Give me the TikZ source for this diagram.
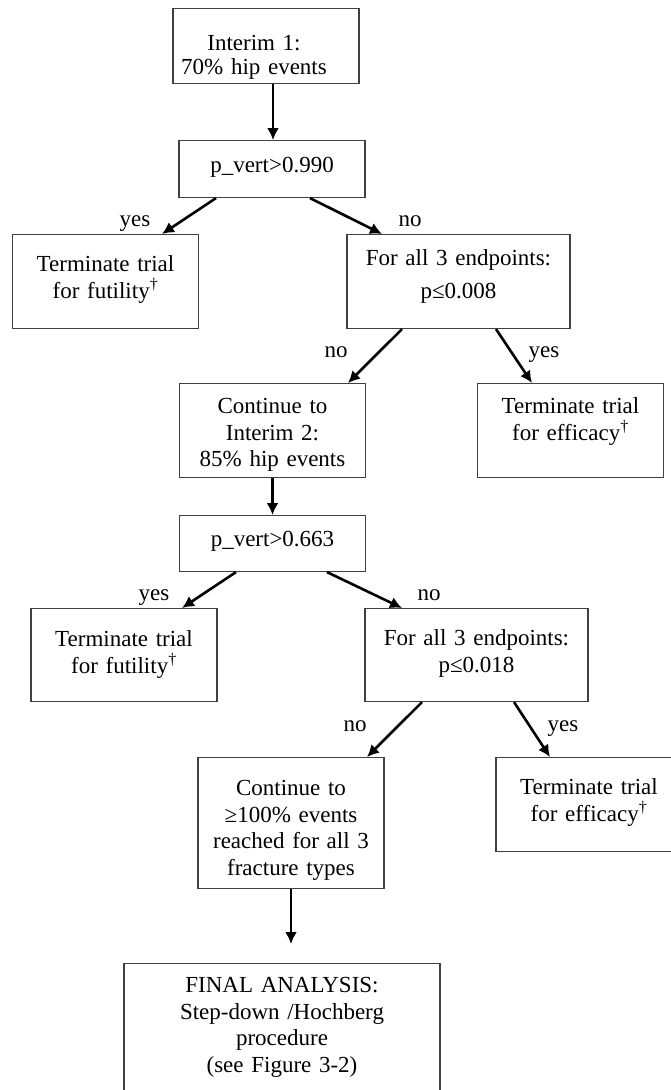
\documentclass[tikz,border=0pt]{standalone}
\usepackage{fontspec}
\setmainfont{Liberation Serif}
\usetikzlibrary{arrows.meta}

\begin{document}
\begin{tikzpicture}[x=1pt, y=-1pt,
    font=\fontsize{23}{26.5}\selectfont,
    box/.style={draw=black!75, line width=1.1pt, anchor=north, inner sep=0pt, text width=186pt, align=center},
    wide/.style={box, text width=223pt},
    arr/.style={-{Latex[length=12pt,width=12pt]}, line width=2.6pt},
    lbl/.style={anchor=base, inner sep=0pt}]
    \useasboundingbox (0,0) rectangle (670,1090);

    \node[box, text height=42pt, text depth=33pt, font=\fontsize{23}{24}\selectfont] (interimA) at (266,8) {\mbox{Interim 1:\hspace{24pt}}\\\mbox{70\% hip events\hspace{24pt}}};
    \node[box, text height=32pt, text depth=25pt] (vertA) at (272,140) {p\_vert>0.990};
    \node[box, text height=37pt, text depth=57pt] (futA) at (105.5,234) {Terminate trial\\for futility\textsuperscript{†}};
    \node[wide, text height=31pt, text depth=63pt] (endA) at (458.5,234) {For all 3 endpoints:\\[6.5pt]p≤0.008};
    \node[box, text height=30pt, text depth=64pt] (contA) at (272.5,383) {Continue to\\Interim 2:\\85\% hip events};
    \node[box, text height=30pt, text depth=64pt] (effA) at (570.5,383) {Terminate trial\\for efficacy\textsuperscript{†}};

    \node[box, text height=31pt, text depth=25pt] (vertB) at (272.5,515) {p\_vert>0.663};
    \node[box, text height=38pt, text depth=55pt] (futB) at (124,608) {Terminate trial\\for futility\textsuperscript{†}};
    \node[wide, text height=37pt, text depth=56pt] (endB) at (476.5,608) {For all 3 endpoints:\\p≤0.018};
    \node[box, text height=38pt, text depth=93pt] (contB) at (291,757) {Continue to\\≥100\% events\\reached for all 3\\fracture types};
    \node[box, text height=37pt, text depth=57pt] (effB) at (589,757) {Terminate trial\\for efficacy\textsuperscript{†}};

    \node[box, text width=316pt, text height=29pt, text depth=170pt] (final) at (282,963) {FINAL ANALYSIS:\\Step-down /Hochberg\\procedure\\(see Figure 3-2)};

    \node[lbl] (yesA) at (135,226) {yes};
    \node[lbl] (noA) at (410,226) {no};
    \node[lbl] (noB) at (336,357) {no};
    \node[lbl] (yesB) at (544,357) {yes};
    \node[lbl] (yesC) at (154,600) {yes};
    \node[lbl] (noC) at (429,600) {no};
    \node[lbl] (noD) at (355,731) {no};
    \node[lbl] (yesD) at (563,731) {yes};

    \draw[arr] ([xshift=7pt]interimA.south) -- ([xshift=1pt]vertA.north);
    \draw[arr] ([xshift=-56pt]vertA.south) -- ([xshift=56.5pt]futA.north);
    \draw[arr] ([xshift=38pt]vertA.south) -- ([xshift=-76.5pt]endA.north);
    \draw[arr] ([xshift=-56.5pt]endA.south) -- ([xshift=75.5pt]contA.north);
    \draw[arr] ([xshift=37.5pt]endA.south) -- ([xshift=-38.5pt]effA.north);
    \draw[arr] (contA) -- (vertB);
    \draw[arr] ([xshift=-36.5pt]vertB.south) -- ([xshift=58pt]futB.north);
    \draw[arr] ([xshift=54.5pt]vertB.south) -- ([xshift=-74.5pt]endB.north);
    \draw[arr] ([xshift=-54.5pt]endB.south) -- ([xshift=76pt]contB.north);
    \draw[arr] ([xshift=37.5pt]endB.south) -- ([xshift=-39pt]effB.north);
    \draw[arr] (contB.south) -- ([xshift=9pt,yshift=19pt]final.north);
\end{tikzpicture}
\end{document}
